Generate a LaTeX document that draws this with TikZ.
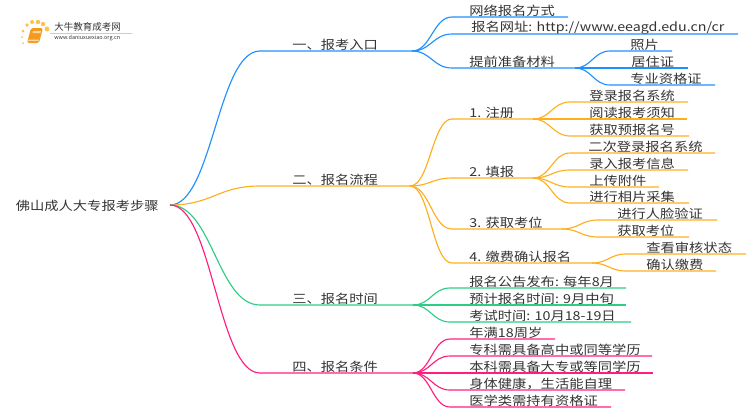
\documentclass[tikz,border=0pt]{standalone}
\usepackage{fontspec}
\setmainfont{Noto Sans CJK SC}
\usetikzlibrary{calc}
\definecolor{lineblue}{HTML}{1E90FF}
\definecolor{lineorange}{HTML}{FFAF1E}
\definecolor{linegreen}{HTML}{2ECC85}
\definecolor{linepink}{HTML}{FF1E7D}
\definecolor{textgrey}{HTML}{333333}
\definecolor{sungold}{HTML}{FFC247}
\definecolor{bookorange}{HTML}{F59A1E}
\tikzset{
	lbl/.style={anchor=west,inner sep=0pt,text=textgrey,font=\fontsize{7}{8}\selectfont,xscale=1.16,transform shape},
	logolbl/.style={anchor=west,inner sep=0pt,text=textgrey},
	sundot/.style={fill=sungold,draw=none},
	link/.style={line width=0.65pt}
}
% colour, parent, name, curve end x, y, line end x, text x, text
\newcommand{\branchline}[8]{
	\coordinate (#3s) at (#4,#5);
	\coordinate (#3) at (#6,#5);
	\node[lbl] (#3t) at (#7,#5-6) {#8};
	\draw[link,#1] let \p1=(#2), \p2=(#3s), \n1={0.47*(\x2-\x1)} in
		(#2) .. controls +(\n1,0) and +(-\n1,0) .. (#3s) -- (#3);
}
\begin{document}
\begin{tikzpicture}[x=0.02cm,y=-0.02cm]
	\useasboundingbox (0,0) rectangle (750,410);
	% logo
	\filldraw[sundot] (23,43) circle (1);
	\filldraw[sundot] (22,37) circle (1);
	\filldraw[sundot] (23,31) circle (1.5);
	\filldraw[sundot] (27,25) circle (1.8);
	\filldraw[sundot] (32,22) circle (2);
	\filldraw[sundot] (38,22) circle (2.2);
	\filldraw[sundot] (43,24) circle (2.2);
	\filldraw[sundot] (47,29) circle (2.4);
	\fill[bookorange,rounded corners=1pt] (31,28) -- (43,28) -- (39,43) -- (27,43) -- cycle;
	\fill[white!60!bookorange] (33,31) -- (41,31) -- (40.5,33) -- (32.5,33) -- cycle;
	\fill[white!60!bookorange] (28.5,39.5) -- (39,39.5) -- (38.5,41) -- (28,41) -- cycle;
	\draw[gray!40,line width=0.3pt] (50,33) -- (132,33);
	\node[logolbl,font=\fontsize{5.4}{6}\selectfont] (logoname) at (54,27) {大牛教育成考网};
	\node[logolbl,font=\fontsize{3.1}{4}\selectfont] (logourl) at (54,38.5) {www.daniuxuexiao.org.cn};
	% root
	\node[lbl] (root) at (15.5,206) {佛山成人大专报考步骤};
	\coordinate (rootj) at (170,205);
	% one
	\branchline{lineblue}{rootj}{one}{260}{51}{412}{292}{一、报考入口}
	\branchline{lineblue}{one}{onea}{452}{17}{568}{469}{网络报名方式}
	\branchline{lineblue}{one}{oneb}{452}{34}{738}{471}{报名网址: http://www.eeagd.edu.cn/cr}
	\branchline{lineblue}{one}{onec}{452}{68}{575}{469}{提前准备材料}
	\branchline{lineblue}{onec}{onex}{610}{51}{672}{630}{照片}
	\branchline{lineblue}{onec}{oney}{610}{68}{688}{631}{居住证}
	\branchline{lineblue}{onec}{onez}{610}{85}{715}{630}{专业资格证}
	% two
	\branchline{lineorange}{rootj}{two}{260}{186}{410}{292}{二、报名流程}
	\branchline{lineorange}{two}{twoa}{452}{119}{533}{469}{1. 注册}
	\branchline{lineorange}{twoa}{twoaa}{570}{102}{688}{589}{登录报名系统}
	\branchline{lineorange}{twoa}{twoab}{570}{119}{687}{589}{阅读报考须知}
	\branchline{lineorange}{twoa}{twoac}{570}{136}{689}{589}{获取预报名号}
	\branchline{lineorange}{two}{twob}{452}{178}{533}{469}{2. 填报}
	\branchline{lineorange}{twob}{twoba}{570}{153}{715}{588}{二次登录报名系统}
	\branchline{lineorange}{twob}{twobb}{570}{170}{688}{589}{录入报考信息}
	\branchline{lineorange}{twob}{twobc}{570}{187}{659}{589}{上传附件}
	\branchline{lineorange}{twob}{twobd}{570}{203}{689}{589}{进行相片采集}
	\branchline{lineorange}{two}{twoc}{452}{229}{562}{469}{3. 获取考位}
	\branchline{lineorange}{twoc}{twoca}{598}{220}{717}{617}{进行人脸验证}
	\branchline{lineorange}{twoc}{twocb}{598}{237}{689}{617}{获取考位}
	\branchline{lineorange}{two}{twod}{452}{263}{592}{469}{4. 缴费确认报名}
	\branchline{lineorange}{twod}{twoda}{626}{254}{746}{646}{查看审核状态}
	\branchline{lineorange}{twod}{twodb}{626}{271}{716}{646}{确认缴费}
	% three
	\branchline{linegreen}{rootj}{three}{260}{305}{413}{292}{三、报名时间}
	\branchline{linegreen}{three}{threea}{450}{288}{626}{469}{报名公告发布: 每年8月}
	\branchline{linegreen}{three}{threeb}{450}{305}{626}{469}{预计报名时间: 9月中旬}
	\branchline{linegreen}{three}{threec}{450}{322}{631}{469}{考试时间: 10月18-19日}
	% four
	\branchline{linepink}{rootj}{four}{260}{373}{413}{292}{四、报名条件}
	\branchline{linepink}{four}{foura}{450}{339}{555}{469}{年满18周岁}
	\branchline{linepink}{four}{fourb}{450}{356}{652}{469}{专科需具备高中或同等学历}
	\branchline{linepink}{four}{fourc}{450}{373}{653}{469}{本科需具备大专或等同学历}
	\branchline{linepink}{four}{fourd}{450}{390}{625}{469}{身体健康，生活能自理}
	\branchline{linepink}{four}{foure}{450}{407}{611}{469}{医学类需持有资格证}
\end{tikzpicture}
\end{document}
